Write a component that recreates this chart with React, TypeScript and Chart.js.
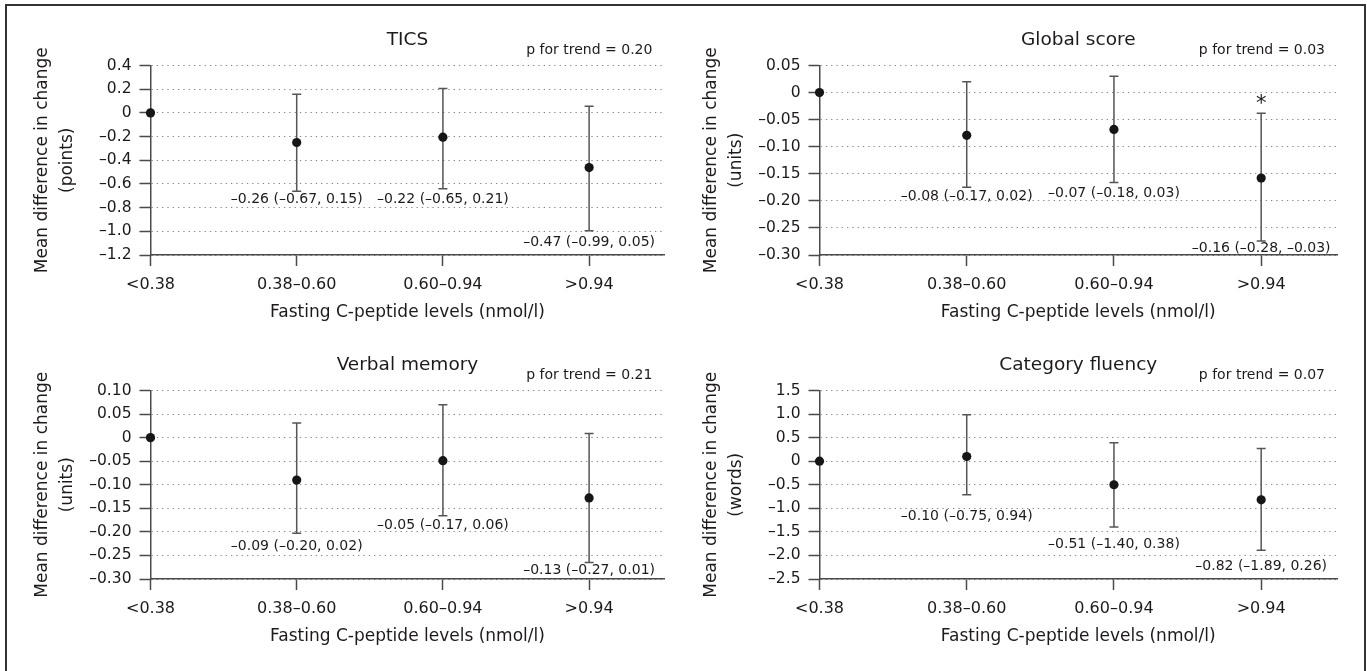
import React, { useEffect, useRef } from "react";
import { Chart, registerables } from "chart.js";

Chart.register(...registerables);

// ---------- data ----------
const categories = ["<0.38", "0.38–0.60", "0.60–0.94", ">0.94"];
const xAxisTitle = "Fasting C-peptide levels (nmol/l)";
const yAxisTitleMain = "Mean difference in change";

// TICS
const ticsMean = [0, -0.25, -0.205, -0.462];
const ticsLower = [null, -0.662, -0.64, -0.995];
const ticsUpper = [null, 0.158, 0.205, 0.056];
const ticsLabels = ["", "–0.26 (–0.67, 0.15)", "–0.22 (–0.65, 0.21)", "–0.47 (–0.99, 0.05)"];
const ticsTickValues = [0.4, 0.2, 0, -0.2, -0.4, -0.6, -0.8, -1.0, -1.2];
const ticsTickLabels = ["0.4", "0.2", "0", "–0.2", "–0.4", "–0.6", "–0.8", "–1.0", "–1.2"];

// Global score
const globalMean = [0, -0.079, -0.068, -0.158];
const globalLower = [null, -0.175, -0.166, -0.274];
const globalUpper = [null, 0.02, 0.03, -0.038];
const globalLabels = ["", "–0.08 (–0.17, 0.02)", "–0.07 (–0.18, 0.03)", "–0.16 (–0.28, –0.03)"];
const globalStars = ["", "", "", "*"];
const globalTickValues = [0.05, 0, -0.05, -0.1, -0.15, -0.2, -0.25, -0.3];
const globalTickLabels = ["0.05", "0", "–0.05", "–0.10", "–0.15", "–0.20", "–0.25", "–0.30"];

// Verbal memory
const verbalMean = [0, -0.09, -0.049, -0.128];
const verbalLower = [null, -0.203, -0.166, -0.265];
const verbalUpper = [null, 0.031, 0.07, 0.0085];
const verbalLabels = ["", "–0.09 (–0.20, 0.02)", "–0.05 (–0.17, 0.06)", "–0.13 (–0.27, 0.01)"];
const verbalTickValues = [0.1, 0.05, 0, -0.05, -0.1, -0.15, -0.2, -0.25, -0.3];
const verbalTickLabels = ["0.10", "0.05", "0", "–0.05", "–0.10", "–0.15", "–0.20", "–0.25", "–0.30"];

// Category fluency
const fluencyMean = [0, 0.1, -0.5, -0.82];
const fluencyLower = [null, -0.712, -1.395, -1.89];
const fluencyUpper = [null, 0.984, 0.39, 0.27];
const fluencyLabels = ["", "–0.10 (–0.75, 0.94)", "–0.51 (–1.40, 0.38)", "–0.82 (–1.89, 0.26)"];
const fluencyTickValues = [1.5, 1.0, 0.5, 0, -0.5, -1.0, -1.5, -2.0, -2.5];
const fluencyTickLabels = ["1.5", "1.0", "0.5", "0", "–0.5", "–1.0", "–1.5", "–2.0", "–2.5"];

// ---------- styling / layout ----------
const FONT = "'DejaVu Sans', sans-serif";
const TEXT = "#1e1a1b";
const AXIS = "#4a4a4a";
const GRID = "#848484";
const BAR = "#555555";
const DOT = "#161616";
const PLOT_LEFT = 150.5;
const PLOT_RIGHT = 668;
const PLOT_TOP = 65.5;
const X_SCALE_H = 40;
const X_MAX = 3.515;

type PanelCfg = {
  title: string;
  pTrend: string;
  unit: string;
  mean: number[];
  lower: (number | null)[];
  upper: (number | null)[];
  labels: string[];
  stars?: string[];
  tickValues: number[];
  tickLabels: string[];
  labelOffsets: number[];
  left: number;
  top: number;
  w: number;
  h: number;
  plotBottom: number;
};

const panels: PanelCfg[] = [
  {
    title: "TICS", pTrend: "p for trend = 0.20", unit: "(points)",
    mean: ticsMean, lower: ticsLower, upper: ticsUpper, labels: ticsLabels,
    tickValues: ticsTickValues, tickLabels: ticsTickLabels,
    labelOffsets: [0, 8, 10.6, 11.6],
    left: 0, top: 0, w: 669, h: 325, plotBottom: 255,
  },
  {
    title: "Global score", pTrend: "p for trend = 0.03", unit: "(units)",
    mean: globalMean, lower: globalLower, upper: globalUpper, labels: globalLabels, stars: globalStars,
    tickValues: globalTickValues, tickLabels: globalTickLabels,
    labelOffsets: [0, 9.4, 10.6, 7],
    left: 669, top: 0, w: 698, h: 325, plotBottom: 255,
  },
  {
    title: "Verbal memory", pTrend: "p for trend = 0.21", unit: "(units)",
    mean: verbalMean, lower: verbalLower, upper: verbalUpper, labels: verbalLabels,
    tickValues: verbalTickValues, tickLabels: verbalTickLabels,
    labelOffsets: [0, 13, 9.3, 7.7],
    left: 0, top: 325, w: 669, h: 346, plotBottom: 254,
  },
  {
    title: "Category fluency", pTrend: "p for trend = 0.07", unit: "(words)",
    mean: fluencyMean, lower: fluencyLower, upper: fluencyUpper, labels: fluencyLabels,
    tickValues: fluencyTickValues, tickLabels: fluencyTickLabels,
    labelOffsets: [0, 21.7, 17, 16.4],
    left: 669, top: 325, w: 698, h: 346, plotBottom: 254,
  },
];

function Panel({ p }: { p: PanelCfg }) {
  const ref = useRef<HTMLCanvasElement>(null);

  useEffect(() => {
    const overlay = {
      id: "overlay",
      beforeDatasetsDraw(chart: any) {
        const { ctx, scales } = chart;
        const x = scales.x, y = scales.y;
        ctx.save();
        ctx.strokeStyle = BAR;
        ctx.lineWidth = 1.5;
        p.mean.forEach((_m, i) => {
          const lo = p.lower[i], hi = p.upper[i];
          if (lo == null || hi == null) return;
          const px = x.getPixelForValue(i);
          const yl = y.getPixelForValue(lo);
          const yh = y.getPixelForValue(hi);
          ctx.beginPath();
          ctx.moveTo(px, yl); ctx.lineTo(px, yh);
          ctx.moveTo(px - 4.5, yl); ctx.lineTo(px + 4.5, yl);
          ctx.moveTo(px - 4.5, yh); ctx.lineTo(px + 4.5, yh);
          ctx.stroke();
        });
        ctx.restore();
      },
      afterDraw(chart: any) {
        const { ctx, scales, chartArea } = chart;
        const x = scales.x, y = scales.y;
        const cx = (chartArea.left + chartArea.right) / 2;
        const cy = (chartArea.top + chartArea.bottom) / 2;
        ctx.save();
        ctx.fillStyle = TEXT;
        ctx.textBaseline = "middle";

        // title
        ctx.textAlign = "center";
        ctx.font = `18.5px ${FONT}`;
        ctx.fillText(p.title, cx, chartArea.top - 25);

        // p for trend
        ctx.textAlign = "right";
        ctx.font = `14px ${FONT}`;
        ctx.fillText(p.pTrend, chartArea.right - 12, chartArea.top - 15);

        // x title
        ctx.textAlign = "center";
        ctx.font = `17px ${FONT}`;
        ctx.fillText(xAxisTitle, cx, chartArea.bottom + 58);

        // y title (two lines, rotated)
        ctx.save();
        ctx.translate(42.7, cy);
        ctx.rotate(-Math.PI / 2);
        ctx.fillText(yAxisTitleMain, 0, 0);
        ctx.fillText(p.unit, 0, 24.5);
        ctx.restore();

        // annotations
        ctx.font = `14px ${FONT}`;
        ctx.textAlign = "center";
        p.labels.forEach((lab, i) => {
          const lo = p.lower[i];
          if (!lab || lo == null) return;
          ctx.fillText(lab, x.getPixelForValue(i), y.getPixelForValue(lo) + p.labelOffsets[i]);
        });

        // significance stars
        if (p.stars) {
          ctx.font = `21px ${FONT}`;
          ctx.textBaseline = "alphabetic";
          p.stars.forEach((s, i) => {
            const hi = p.upper[i];
            if (!s || hi == null) return;
            ctx.fillText(s, x.getPixelForValue(i), y.getPixelForValue(hi) - 3);
          });
        }
        ctx.restore();
      },
    };

    const chart = new Chart(ref.current as HTMLCanvasElement, {
      type: "scatter",
      data: {
        datasets: [
          {
            data: p.mean.map((m, i) => ({ x: i, y: m })),
            pointRadius: 4.6,
            pointHoverRadius: 4.6,
            backgroundColor: DOT,
            borderWidth: 0,
            clip: false as any,
            showLine: false,
          },
        ],
      },
      options: {
        animation: false,
        responsive: false,
        maintainAspectRatio: false,
        devicePixelRatio: 1,
        events: [],
        layout: {
          padding: {
            left: 0,
            top: PLOT_TOP,
            right: p.w - PLOT_RIGHT,
            bottom: p.h - p.plotBottom - X_SCALE_H,
          },
        },
        plugins: { legend: { display: false }, tooltip: { enabled: false } },
        scales: {
          x: {
            type: "linear",
            position: "bottom",
            min: 0,
            max: X_MAX,
            afterBuildTicks: (s: any) => {
              s.ticks = categories.map((_c, i) => ({ value: i }));
            },
            afterFit: (s: any) => {
              s.height = X_SCALE_H;
            },
            ticks: {
              autoSkip: false,
              maxRotation: 0,
              padding: 9.5,
              color: TEXT,
              font: { family: FONT, size: 16 },
              callback: (v: any) => categories[Math.round(Number(v))] ?? "",
            },
            grid: {
              drawOnChartArea: false,
              drawTicks: true,
              tickLength: 11,
              tickColor: AXIS,
              tickWidth: 1.5,
              color: AXIS,
            },
            border: { display: true, color: AXIS, width: 1.5 },
          },
          y: {
            type: "linear",
            min: p.tickValues[p.tickValues.length - 1],
            max: p.tickValues[0],
            afterBuildTicks: (s: any) => {
              s.ticks = p.tickValues.slice().reverse().map((v) => ({ value: v }));
            },
            afterFit: (s: any) => {
              s.width = PLOT_LEFT;
            },
            ticks: {
              autoSkip: false,
              padding: 8,
              color: TEXT,
              font: { family: FONT, size: 15.5 },
              callback: (v: any) => {
                const i = p.tickValues.findIndex((t) => Math.abs(t - Number(v)) < 1e-9);
                return i >= 0 ? p.tickLabels[i] : "";
              },
            },
            grid: {
              drawOnChartArea: true,
              drawTicks: true,
              tickLength: 11,
              color: GRID,
              lineWidth: 1,
              tickColor: AXIS,
              tickWidth: 1.5,
              tickBorderDash: [],
            },
            border: { display: true, color: AXIS, width: 1.5, dash: [1.3, 4] },
          },
        },
      } as any,
      plugins: [overlay],
    });
    return () => chart.destroy();
  }, [p]);

  return (
    <canvas
      ref={ref}
      width={p.w}
      height={p.h}
      style={{ position: "absolute", left: p.left, top: p.top, width: p.w, height: p.h }}
    />
  );
}

export default function App() {
  return (
    <div
      style={{
        position: "fixed",
        left: 0,
        top: 0,
        width: 1367,
        height: 671,
        overflow: "hidden",
        background: "#ffffff",
      }}
    >
      {panels.map((p, i) => (
        <Panel key={i} p={p} />
      ))}
      <div
        style={{
          position: "absolute",
          left: 5,
          top: 4,
          width: 1361,
          height: 720,
          boxSizing: "border-box",
          border: "2px solid #333333",
          pointerEvents: "none",
        }}
      />
    </div>
  );
}
